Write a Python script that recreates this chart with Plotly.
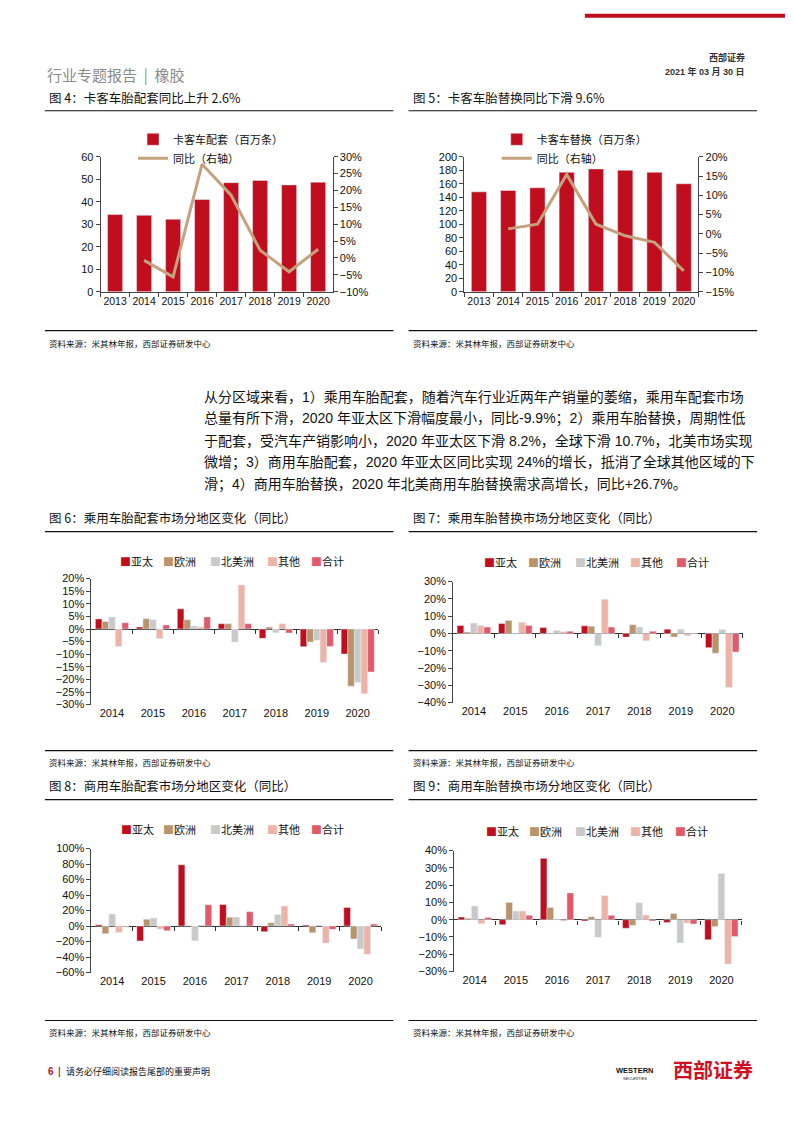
import plotly.graph_objects as go

W, H = 793, 1122
# page is photographed with a small offset/scale; compensate so that positions match
OX, SX = 8.6, 0.987
OY, SY = 14.2, 0.9896
def px(x):
    return ((x - OX) / SX) / W
def py(y):
    return 1 - ((y - OY) / SY) / H

FONT = "Liberation Sans, Arial, Noto Sans CJK SC, sans-serif"
CJK = "Noto Sans CJK SC, Liberation Sans, sans-serif"

# ---------------- data ----------------
years8 = ["2013", "2014", "2015", "2016", "2017", "2018", "2019", "2020"]
truck_oe = [34.3, 34.0, 32.2, 41.0, 48.5, 49.5, 47.5, 48.7]
truck_oe_yoy = [None, -0.7, -5.6, 27.8, 18.6, 2.3, -4.1, 2.6]
truck_rt = [148, 150, 154, 177, 182, 180, 177, 160]
truck_rt_yoy = [None, 1.3, 2.5, 15.4, 2.5, -0.5, -2.2, -9.6]

years7 = ["2014", "2015", "2016", "2017", "2018", "2019", "2020"]
regions = ["亚太", "欧洲", "北美洲", "其他", "合计"]
region_colors = ["#C00E1E", "#B9936C", "#C9C9C9", "#EDB3A7", "#E05A6A"]

# 图6 乘用车胎配套
pc_oe_asia = [4.0, 0.8, 8.0, 2.1, -3.7, -7.0, -9.9]
pc_oe_europe = [3.0, 4.1, 3.7, 2.1, 0.8, -5.2, -22.7]
pc_oe_na = [4.8, 3.7, 1.2, -5.2, -1.5, -4.5, -21.2]
pc_oe_other = [-6.9, -3.8, 0.8, 17.5, 2.1, -13.3, -25.7]
pc_oe_total = [2.5, 1.6, 4.8, 2.1, -1.6, -6.9, -17.1]

# 图7 乘用车胎替换
pc_rt_asia = [4.6, 5.8, 3.5, 4.4, -2.1, 2.5, -8.2]
pc_rt_europe = [0.8, 7.5, 0.2, 4.2, 5.0, -2.1, -11.4]
pc_rt_na = [6.0, 0.0, 1.7, -7.1, 3.7, 2.5, 2.3]
pc_rt_other = [4.6, 6.5, 1.0, 19.8, -4.2, -1.3, -31.2]
pc_rt_total = [3.7, 4.6, 1.3, 3.7, 1.3, -0.2, -10.7]

# 图8 商用车胎配套
cv_oe_asia = [1.7, -19.3, 79.0, 27.9, -7.3, 1.3, 24.0]
cv_oe_europe = [-9.9, 8.6, 0.5, 11.2, 4.3, -8.6, -16.7]
cv_oe_na = [15.5, 10.3, -18.9, 11.6, 15.0, 1.3, -29.6]
cv_oe_other = [-8.2, -3.9, 1.3, 0.3, 25.8, -21.9, -36.5]
cv_oe_total = [-0.9, -6.0, 27.5, 18.5, 2.6, -4.3, 2.6]

# 图9 商用车胎替换
cv_rt_asia = [1.5, -2.9, 35.5, -0.8, -5.0, -1.7, -11.6]
cv_rt_europe = [0.8, 10.0, 7.1, 1.7, -3.3, 3.5, -4.0]
cv_rt_na = [7.9, 5.0, 0.3, -10.2, 9.8, -13.5, 26.7]
cv_rt_other = [-2.3, 5.0, -0.8, 13.9, 2.7, -1.9, -25.6]
cv_rt_total = [1.3, 2.5, 15.5, 2.5, -0.8, -2.5, -9.8]

grouped_sets = [
    [pc_oe_asia, pc_oe_europe, pc_oe_na, pc_oe_other, pc_oe_total],
    [pc_rt_asia, pc_rt_europe, pc_rt_na, pc_rt_other, pc_rt_total],
    [cv_oe_asia, cv_oe_europe, cv_oe_na, cv_oe_other, cv_oe_total],
    [cv_rt_asia, cv_rt_europe, cv_rt_na, cv_rt_other, cv_rt_total],
]

BAR_RED = "#C00E1E"
LINE_TAN = "#C4A27E"

fig = go.Figure()

# ---------------- 图4 / 图5 ----------------
fig.add_trace(go.Bar(x=years8, y=truck_oe, name="卡客车配套（百万条）", marker_color=BAR_RED,
                     width=0.52, xaxis="x", yaxis="y", legend="legend"))
fig.add_trace(go.Scatter(x=years8, y=truck_oe_yoy, name="同比（右轴）", mode="lines",
                         line=dict(color=LINE_TAN, width=3), xaxis="x", yaxis="y2", legend="legend"))
fig.add_trace(go.Bar(x=years8, y=truck_rt, name="卡客车替换（百万条）", marker_color=BAR_RED,
                     width=0.52, xaxis="x2", yaxis="y3", legend="legend2"))
fig.add_trace(go.Scatter(x=years8, y=truck_rt_yoy, name="同比（右轴）", mode="lines",
                         line=dict(color=LINE_TAN, width=3), xaxis="x2", yaxis="y4", legend="legend2"))

# ---------------- grouped charts ----------------
grouped_axes = [("x3", "y5", "x4"), ("x5", "y6", "x6"), ("x7", "y7", "x8"), ("x9", "y8", "x10")]
for (xa, ya, xo), series in zip(grouped_axes, grouped_sets):
    for name, color, vals in zip(regions, region_colors, series):
        fig.add_trace(go.Bar(x=years7, y=vals, name=name, marker_color=color,
                             xaxis=xa, yaxis=ya, showlegend=False))
    fig.add_trace(go.Scatter(x=[None], y=[None], xaxis=xo, yaxis=ya, showlegend=False,
                             hoverinfo="skip", mode="lines"))

tickfont = dict(family=FONT, size=11, color="#111")

def yax(domain, rng, dtick, suffix="", anchor="x", side="left", overlaying=None):
    d = dict(range=rng, dtick=dtick, ticksuffix=suffix, showgrid=False, zeroline=False,
             showline=True, linecolor="#444", linewidth=1, ticks="outside", ticklen=4,
             tickcolor="#444", tickfont=tickfont, anchor=anchor, side=side)
    if domain is not None:
        d["domain"] = domain
    if overlaying:
        d["overlaying"] = overlaying
    return d

def xcat(domain, anchor, rng):
    return dict(domain=domain, anchor=anchor, type="category", range=rng, showgrid=False,
                zeroline=False, showline=True, linecolor="#444", ticks="outside", ticklen=4,
                tickcolor="#444", tickson="boundaries", tickangle=0,
                tickfont=dict(family=FONT, size=10.5, color="#111"))

def xgrp(domain, anchor):
    return dict(domain=domain, anchor=anchor, type="category", range=[-0.5, 6.5], showgrid=False,
                zeroline=False, showline=False, ticks="", tickangle=0, tickfont=tickfont)

def xover(base, ydom, yrng):
    pos = ydom[0] + (0 - yrng[0]) / (yrng[1] - yrng[0]) * (ydom[1] - ydom[0])
    return dict(overlaying=base, anchor="free", position=pos, type="linear", range=[-0.5, 6.5],
                tickvals=[0.5, 1.5, 2.5, 3.5, 4.5, 5.5, 6.5], showticklabels=False,
                ticks="outside", ticklen=4, tickcolor="#333", showline=False, showgrid=False,
                zeroline=False)

d4y = [py(292), py(157)]
d6y, r6 = [py(705), py(579)], [-30, 20]
d7y, r7 = [py(703), py(582)], [-40, 30]
d8y, r8 = [py(973), py(849)], [-60, 100]
d9y, r9 = [py(972), py(851)], [-30, 40]

def ygrp(domain, rng, dtick, anchor):
    d = yax(domain, rng, dtick, "%", anchor)
    d.update(zeroline=True, zerolinecolor="#333", zerolinewidth=1)
    return d

fig.update_layout(
    width=W, height=H, margin=dict(l=0, r=0, t=0, b=0),
    paper_bgcolor="white", plot_bgcolor="rgba(0,0,0,0)",
    barmode="group", bargap=0.19, bargroupgap=0,
    font=dict(family=FONT, size=11, color="#111"),
    xaxis=xcat([px(100), px(329)], "y", [-0.5, 7.5]),
    yaxis=yax(d4y, [0, 60], 10, anchor="x"),
    yaxis2=yax(None, [-10, 30], 5, "%", anchor="x", side="right", overlaying="y"),
    xaxis2=xcat([px(459), px(690)], "y3", [-0.5, 7.5]),
    yaxis3=yax(d4y, [0, 200], 20, anchor="x2"),
    yaxis4=yax(None, [-15, 20], 5, "%", anchor="x2", side="right", overlaying="y3"),
    xaxis3=xgrp([px(91), px(374)], "y5"),
    yaxis5=ygrp(d6y, r6, 5, "x3"),
    xaxis4=xover("x3", d6y, r6),
    xaxis5=xgrp([px(448), px(734)], "y6"),
    yaxis6=ygrp(d7y, r7, 10, "x5"),
    xaxis6=xover("x5", d7y, r7),
    xaxis7=xgrp([px(91), px(377)], "y7"),
    yaxis7=ygrp(d8y, r8, 20, "x7"),
    xaxis8=xover("x7", d8y, r8),
    xaxis9=xgrp([px(449), px(733)], "y8"),
    yaxis8=ygrp(d9y, r9, 10, "x9"),
    xaxis10=xover("x9", d9y, r9),
    legend=dict(x=px(132), y=py(125), xanchor="left", yanchor="top", bgcolor="rgba(0,0,0,0)",
                font=dict(family=CJK, size=11, color="#111"), tracegroupgap=0, itemwidth=30),
    legend2=dict(x=px(491), y=py(125), xanchor="left", yanchor="top", bgcolor="rgba(0,0,0,0)",
                 font=dict(family=CJK, size=11, color="#111"), tracegroupgap=0, itemwidth=30),
)

# ---------------- text ----------------
ann = []
def text(x, y, s, size=12, color="#111", anchor="left", family=CJK, bold=False):
    if bold:
        s = "<b>" + s + "</b>"
    ann.append(dict(x=px(x), y=py(y), xref="paper", yref="paper", text=s, showarrow=False,
                    xanchor=anchor, yanchor="middle", font=dict(family=family, size=size, color=color)))

text(45, 75, "行业专题报告 &nbsp;|&nbsp; 橡胶", 15, "#8a8a8a")
text(738, 58, "西部证券", 9, "#333", "right", bold=True)
text(738, 72, "2021 年 03 月 30 日", 9, "#333", "right", family=FONT, bold=True)

text(47, 98, "图 4：卡客车胎配套同比上升 2.6%", 12.5)
text(406, 98, "图 5：卡客车胎替换同比下滑 9.6%", 12.5)
text(47, 343, "资料来源：米其林年报，西部证券研发中心", 8.5)
text(406, 343, "资料来源：米其林年报，西部证券研发中心", 8.5)

para = [
    "从分区域来看，1）乘用车胎配套，随着汽车行业近两年产销量的萎缩，乘用车配套市场",
    "总量有所下滑，2020 年亚太区下滑幅度最小，同比-9.9%；2）乘用车胎替换，周期性低",
    "于配套，受汽车产销影响小，2020 年亚太区下滑 8.2%，全球下滑 10.7%，北美市场实现",
    "微增；3）商用车胎配套，2020 年亚太区同比实现 24%的增长，抵消了全球其他区域的下",
    "滑；4）商用车胎替换，2020 年北美商用车胎替换需求高增长，同比+26.7%。",
]
for i, line in enumerate(para):
    text(200, 397 + i * 22, line, 14, family=FONT)

text(47, 518, "图 6：乘用车胎配套市场分地区变化（同比）", 12.5)
text(406, 518, "图 7：乘用车胎替换市场分地区变化（同比）", 12.5)
text(47, 762, "资料来源：米其林年报，西部证券研发中心", 8.5)
text(406, 762, "资料来源：米其林年报，西部证券研发中心", 8.5)
text(47, 786, "图 8：商用车胎配套市场分地区变化（同比）", 12.5)
text(406, 786, "图 9：商用车胎替换市场分地区变化（同比）", 12.5)
text(47, 1033, "资料来源：米其林年报，西部证券研发中心", 8.5)
text(406, 1033, "资料来源：米其林年报，西部证券研发中心", 8.5)

# legends of grouped charts
leg_pos = [
    (561, [117, 160, 206, 262, 306]),
    (562, [476, 520, 566, 621, 666]),
    (829, [118, 160, 206, 262, 306]),
    (831, [478, 521, 566, 621, 665]),
]
for yy, xs in leg_pos:
    for xx, name, color in zip(xs, regions, region_colors):
        text(xx, yy, "<span style='color:%s'>■</span>%s" % (color, name), 11)

# footer
text(46, 1072, "6", 10, "#C00E1E", family=FONT, bold=True)
text(56, 1072, "|", 10, "#111", family=FONT)
text(64, 1072, "请务必仔细阅读报告尾部的重要声明", 9)
text(746, 1070, "西部证券", 20, "#D0101E", "right", bold=True)
text(627, 1071, "WESTERN", 7.5, "#111", "center", family=FONT, bold=True)
text(627, 1079, "SECURITIES", 4, "#111", "center", family=FONT)

fig.update_layout(annotations=ann)

# ---------------- decorative lines ----------------
shapes = []
def hline(x0, x1, y, color="#111", w=1.2):
    shapes.append(dict(type="line", xref="paper", yref="paper", x0=px(x0), x1=px(x1),
                       y0=py(y), y1=py(y), line=dict(color=color, width=w)))

shapes.append(dict(type="rect", xref="paper", yref="paper", x0=px(578), x1=px(784),
                   y0=py(18), y1=py(14), fillcolor="#C00E1E", line=dict(width=0)))
shapes.append(dict(type="rect", xref="paper", yref="paper", x0=px(780), x1=px(784),
                   y0=py(52), y1=py(14), fillcolor="#C00E1E", line=dict(width=0)))
for yy in (111, 532, 800):
    hline(45, 389, yy)
    hline(404, 748, yy)
for yy in (331, 751, 1021):
    hline(45, 389, yy)
    hline(404, 748, yy)
fig.update_layout(shapes=shapes)

fig.write_html("out.html")
